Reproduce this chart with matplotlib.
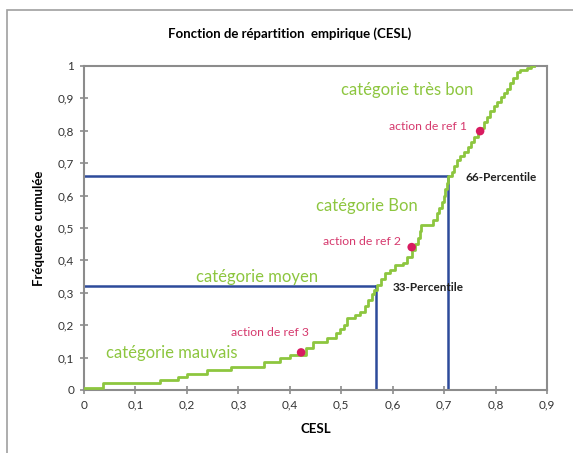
import matplotlib.pyplot as plt
from matplotlib.patches import Rectangle

# Fonction de répartition empirique : abscisses des sauts et niveau atteint
cesl = [0.000, 0.037, 0.148, 0.183, 0.200, 0.240, 0.285, 0.350, 0.381, 0.400,
        0.431, 0.446, 0.472, 0.490, 0.498, 0.505, 0.511, 0.527, 0.537, 0.546,
        0.552, 0.559, 0.564, 0.569, 0.577, 0.585, 0.595, 0.605, 0.621, 0.628,
        0.637, 0.643, 0.650, 0.653, 0.656, 0.679, 0.686, 0.691, 0.695, 0.699,
        0.702, 0.705, 0.708, 0.715, 0.720, 0.726, 0.731, 0.738, 0.746, 0.752,
        0.758, 0.766, 0.772, 0.778, 0.784, 0.790, 0.797, 0.803, 0.810, 0.816,
        0.822, 0.828, 0.834, 0.841, 0.848, 0.861, 0.868, 0.875]
freq = [0.006, 0.022, 0.031, 0.041, 0.050, 0.062, 0.072, 0.087, 0.098, 0.108,
        0.129, 0.149, 0.160, 0.175, 0.188, 0.201, 0.221, 0.231, 0.242, 0.260,
        0.278, 0.296, 0.310, 0.324, 0.342, 0.360, 0.370, 0.386, 0.392, 0.411,
        0.432, 0.450, 0.468, 0.490, 0.509, 0.525, 0.545, 0.563, 0.581, 0.600,
        0.620, 0.640, 0.660, 0.674, 0.692, 0.710, 0.722, 0.736, 0.751, 0.765,
        0.780, 0.797, 0.810, 0.826, 0.844, 0.862, 0.878, 0.890, 0.905, 0.918,
        0.930, 0.947, 0.962, 0.980, 0.987, 0.994, 1.000, 1.000]

# Percentiles (CESL, fréquence)
p33 = (0.568, 0.322)
p66 = (0.708, 0.659)

# Actions de référence
ref_x = [0.770, 0.637, 0.422]
ref_y = [0.799, 0.441, 0.116]
ref_labels = ["action de ref 1", "action de ref 2", "action de ref 3"]

categories = ["catégorie très bon", "catégorie Bon", "catégorie moyen", "catégorie mauvais"]
cat_pos = [(0.628, 0.926), (0.550, 0.568), (0.337, 0.350), (0.170, 0.114)]

xticks = [0, 0.1, 0.2, 0.3, 0.4, 0.5, 0.6, 0.7, 0.8, 0.9]
yticks = [0, 0.1, 0.2, 0.3, 0.4, 0.5, 0.6, 0.7, 0.8, 0.9, 1]

green = "#8DC63F"
blue = "#2D4A9B"
red = "#D81B60"
pink = "#D63A6E"
grey = "#8C8C8C"

plt.rcParams["font.family"] = ["Lato", "DejaVu Sans"]

fig = plt.figure(figsize=(5.73, 4.53), dpi=100)
fig.patches.append(Rectangle((7 / 573, -0.1), 1.2, 1 - 10 / 453 + 0.1,
                             transform=fig.transFigure, fill=False,
                             edgecolor="#A0A0A0", linewidth=1.2))
ax = fig.add_axes([84 / 573, 1 - 390 / 453, 463 / 573, 324 / 453])

# Lignes des percentiles
ax.plot([0, p33[0]], [p33[1], p33[1]], color=blue, lw=1.8, zorder=2)
ax.plot([p33[0], p33[0]], [0, p33[1]], color=blue, lw=1.8, zorder=2)
ax.plot([0, p66[0]], [p66[1], p66[1]], color=blue, lw=1.8, zorder=2)
ax.plot([p66[0], p66[0]], [0, p66[1]], color=blue, lw=1.8, zorder=2)

ax.step(cesl, freq, where="post", color=green, lw=2.0, zorder=3)
ax.scatter(ref_x, ref_y, s=38, color=red, zorder=4, edgecolors="none")

ax.text(0.744, 0.812, ref_labels[0], color=pink, fontsize=8.8, ha="right", va="center")
ax.text(0.541, 0.458, ref_labels[1], color=pink, fontsize=8.8, ha="center", va="center")
ax.text(0.362, 0.176, ref_labels[2], color=pink, fontsize=8.8, ha="center", va="center")

for label, (cx, cy) in zip(categories, cat_pos):
    ax.text(cx, cy, label, color=green, fontsize=12, ha="center", va="center")

ax.text(0.811, 0.655, "66-Percentile", fontsize=8.5, fontweight="bold",
        color="#222222", ha="center", va="center")
ax.text(0.669, 0.317, "33-Percentile", fontsize=8.5, fontweight="bold",
        color="#222222", ha="center", va="center")

ax.set_xlim(0, 0.9)
ax.set_ylim(0, 1)
ax.set_xticks(xticks)
ax.set_yticks(yticks)
ax.set_xticklabels([f"{t:g}".replace(".", ",") for t in xticks])
ax.set_yticklabels([f"{t:g}".replace(".", ",") for t in yticks])
ax.tick_params(direction="inout", length=6, width=1.2, color=grey,
               labelsize=8.5, labelcolor="#333333", pad=4)
for sp in ax.spines.values():
    sp.set_color(grey)
    sp.set_linewidth(1.5)

ax.set_xlabel("CESL", fontsize=9.5, fontweight="bold", labelpad=9)
ax.set_ylabel("Fréquence cumulée", fontsize=9.5, fontweight="bold", labelpad=9)
fig.text(0.506, 1 - 34 / 453, "Fonction de répartition  empirique (CESL)",
         fontsize=9.5, fontweight="bold", ha="center", va="center")

fig.savefig("out.png", dpi=100)
